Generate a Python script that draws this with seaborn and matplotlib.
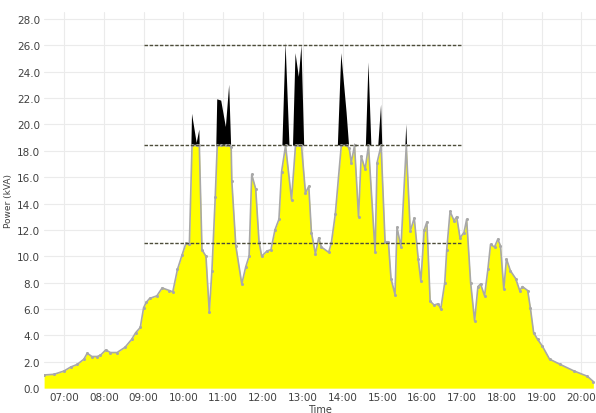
import matplotlib
matplotlib.use("Agg")
import matplotlib.pyplot as plt
import numpy as np
import pandas as pd
import seaborn as sns

# Time of reading (minutes after midnight) and apparent power (kVA)
minutes = [390, 405, 420, 430, 440, 450, 455, 462, 470, 475, 483, 490, 500, 512, 522,
           528, 535, 540, 544, 549, 560, 568, 579, 584, 591, 598, 604, 609, 613, 620,
           624, 628, 634, 639, 643, 648, 651, 657, 664, 669, 672, 673, 679, 688, 694,
           699, 703, 709, 714, 718, 726, 732, 738, 744, 748, 754, 763, 769, 774, 778,
           784, 789, 793, 799, 804, 808, 819, 823, 829, 838, 846, 850, 853, 858, 864,
           868, 874, 879, 889, 892, 898, 904, 909, 913, 919, 922, 928, 936, 942, 948,
           954, 958, 963, 967, 972, 978, 984, 988, 994, 997, 1002, 1008, 1012, 1017, 1023,
           1027, 1033, 1039, 1044, 1048, 1054, 1059, 1063, 1069, 1074, 1078, 1083, 1087, 1093, 1101,
           1107, 1111, 1119, 1123, 1128, 1134, 1141, 1152, 1168, 1189, 1209, 1218]
power = [1.0, 1.05, 1.3, 1.6, 1.8, 2.2, 2.65, 2.4, 2.4, 2.5, 2.9, 2.7, 2.7, 3.1, 3.7,
         4.2, 4.6, 6.1, 6.5, 6.8, 7.0, 7.6, 7.4, 7.3, 9.0, 10.1, 11.0, 10.9, 20.8, 18.6,
         19.6, 10.5, 10.0, 5.8, 8.9, 14.5, 21.9, 21.8, 19.8, 23.0, 18.3, 15.7, 10.8, 7.9, 9.2,
         10.0, 16.2, 15.1, 11.1, 10.0, 10.4, 10.5, 12.0, 12.8, 16.4, 26.2, 14.3, 25.4, 23.6, 26.0,
         14.8, 15.3, 11.8, 10.2, 11.4, 10.7, 10.3, 11.0, 13.2, 25.4, 20.9, 18.2, 17.1, 18.6, 13.0,
         17.6, 16.6, 24.7, 10.3, 17.1, 21.5, 11.1, 11.1, 8.3, 7.1, 12.2, 10.7, 20.0, 11.9, 12.9,
         9.8, 8.1, 12.0, 12.6, 6.6, 6.3, 6.4, 6.0, 8.0, 10.5, 13.4, 12.7, 13.0, 11.4, 11.8,
         12.8, 8.0, 5.1, 7.7, 7.9, 7.0, 9.0, 10.9, 10.7, 11.3, 10.8, 7.5, 9.8, 8.9, 8.3,
         7.4, 7.7, 7.4, 6.1, 4.2, 3.7, 3.2, 2.2, 1.8, 1.3, 0.9, 0.5]

# Reference levels (kVA), shown between 09:00 and 17:00
levels = [26.0, 18.4, 11.0]
level_start, level_end = 540, 1020
cap = 18.4

hour_ticks = list(range(420, 1201, 60))
hour_labels = ["%02d:00" % (m // 60) for m in hour_ticks]

df = pd.DataFrame({"minute": minutes, "power": power})
df["capped"] = np.minimum(df["power"], cap)

sns.set_style("whitegrid", {"grid.color": "#ebebeb", "axes.edgecolor": "white"})
fig = plt.figure(figsize=(5.96, 4.14), dpi=100)
ax = fig.add_axes([0.074, 0.06, 0.926, 0.908])

# peaks above the cap in black, the rest in yellow
ax.fill_between(df["minute"], cap, df["power"], where=df["power"] > cap,
                interpolate=True, color="black", linewidth=0, zorder=2)
ax.fill_between(df["minute"], 0, df["capped"], color="#ffff00", linewidth=0, zorder=3)
sns.lineplot(data=df, x="minute", y="capped", ax=ax, color="#a8a8a8", linewidth=1.2,
             marker="o", markersize=2.2, markeredgewidth=0, zorder=4)

for lv in levels:
    ax.plot([level_start, level_end], [lv, lv], color="#4d4d3a", linewidth=1,
            linestyle=(0, (2.5, 1.2)), zorder=5)

ax.set_xlim(390, 1222)
ax.set_ylim(0, 28.5)
ax.set_xticks(hour_ticks)
ax.set_xticklabels(hour_labels)
ax.set_yticks(np.arange(0, 28.1, 2))
ax.set_yticklabels(["%.1f" % v for v in np.arange(0, 28.1, 2)])
ax.tick_params(axis="both", labelsize=7.5, colors="#404040", length=0, pad=3)
ax.set_xlabel("Time", fontsize=7, color="#404040", labelpad=1)
ax.set_ylabel("Power (kVA)", fontsize=6.5, color="#404040", labelpad=3)
ax.grid(True, color="#ebebeb", linewidth=0.8)
for s in ax.spines.values():
    s.set_visible(False)

fig.savefig("out.png", dpi=100)
